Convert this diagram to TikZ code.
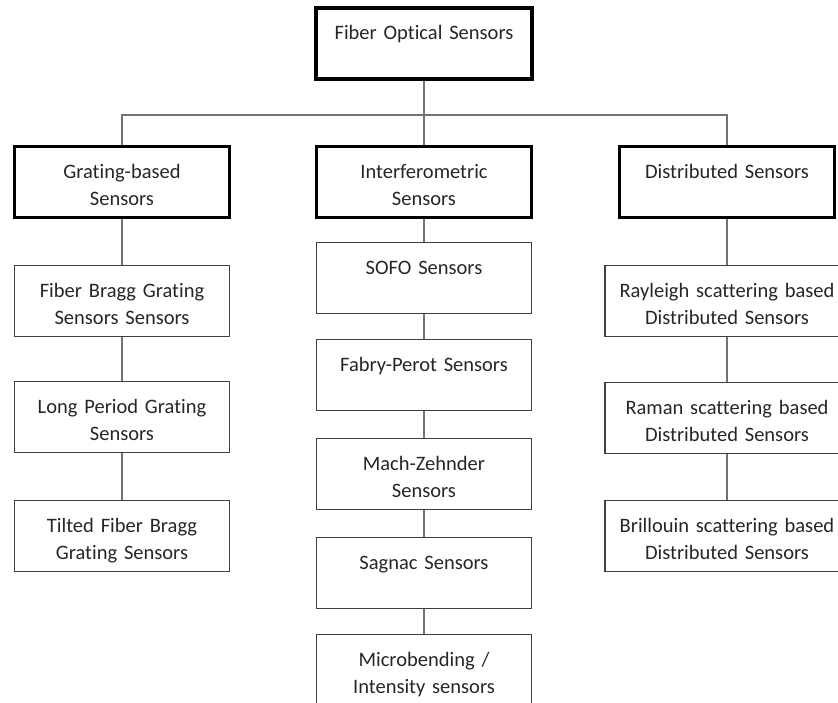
\documentclass[tikz,border=0pt]{standalone}
\usepackage{fontspec}
\setmainfont{Carlito}[Ligatures=NoCommon]
\begin{document}
\begin{tikzpicture}[x=1pt,y=-1pt,
  sbox/.style={draw=black!75, line width=1.3pt, text width=207pt, align=center,
    inner xsep=4pt, inner ysep=0pt, text height=32pt, text depth=39pt,
    font=\fontsize{20.5}{27}\selectfont, text=black!85},
  wbox/.style={sbox, text width=236pt},
  mbox/.style={sbox, draw=black, line width=2.2pt},
  rbox/.style={sbox, draw=black, line width=4pt, text width=208pt},
  link/.style={draw=black!55, line width=1.5pt}]
\clip (0,0) rectangle (838,702);
\node[rbox] (fos) at (424,43) {Fiber Optical Sensors};
\coordinate (hub) at (424,115);
\node[mbox] (gr) at (122,182) {Grating-based\\Sensors};
\node[mbox] (ifm) at (424,182) {Interferometric\\Sensors};
\node[mbox] (dist) at (727,182) {Distributed Sensors};
% grating column
\node[sbox] (fbg) at (122,301) {Fiber Bragg Grating\\Sensors Sensors};
\node[sbox] (lpg) at (122,417) {Long Period Grating\\Sensors};
\node[sbox] (tfbg) at (122,536) {Tilted Fiber Bragg\\Grating Sensors};
% interferometric column
\node[sbox] (sofo) at (424,278) {SOFO Sensors};
\node[sbox] (fp) at (424,375) {Fabry-Perot Sensors};
\node[sbox] (mz) at (424,474) {Mach-Zehnder\\Sensors};
\node[sbox] (sag) at (424,573) {Sagnac Sensors};
\node[sbox] (mb) at (424,670) {Microbending /\\Intensity sensors};
% distributed column
\node[wbox] (ray) at (727,301) {Rayleigh scattering based\\Distributed Sensors};
\node[wbox] (ram) at (727,418) {Raman scattering based\\Distributed Sensors};
\node[wbox] (bri) at (727,536) {Brillouin scattering based\\Distributed Sensors};
% connectors
\draw[link] (fos.south) -- (hub);
\draw[link] (gr.north) |- (hub);
\draw[link] (dist.north) |- (hub);
\draw[link] (ifm.north) -- (hub);
\draw[link] (gr) -- (fbg) -- (lpg) -- (tfbg);
\draw[link] (ifm) -- (sofo) -- (fp) -- (mz) -- (sag) -- (mb);
\draw[link] (dist) -- (ray) -- (ram) -- (bri);
\end{tikzpicture}
\end{document}
